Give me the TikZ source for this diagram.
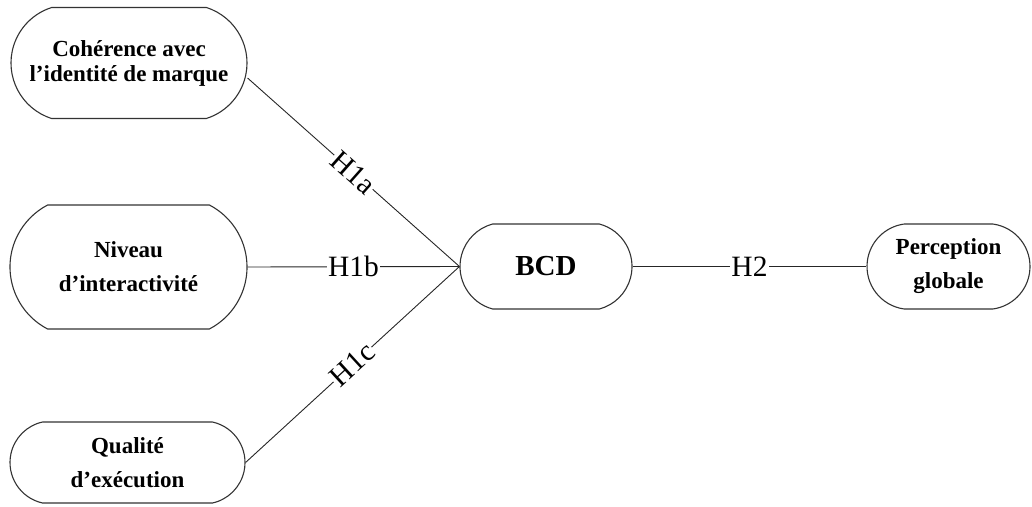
\documentclass[tikz,border=0pt]{standalone}
\usepackage{fontspec}
\setmainfont{Liberation Serif}
\usetikzlibrary{shapes.misc}
\begin{document}
\begin{tikzpicture}[x=1pt,y=-1pt,
  box/.style={draw=black!80, line width=1.1pt, rounded rectangle, align=center,
    font=\bfseries\fontsize{23}{34}\selectfont, inner sep=0pt},
  conn/.style={draw=black!85, line width=0.9pt},
  hlab/.style={fill=white, inner sep=1pt, font=\fontsize{29.5}{30}\selectfont, midway}]
\useasboundingbox (0,0) rectangle (1032,506);
\node[box, minimum width=236pt, minimum height=111pt, rounded rectangle arc length=145,
  font=\bfseries\fontsize{23}{25}\selectfont] (c1) at (129,63) {Cohérence avec\\l’identité de marque};
\node[box, minimum width=237pt, minimum height=124pt, rounded rectangle arc length=125] (c2) at (128.5,267) {Niveau\\d’interactivité};
\node[box, minimum width=235pt, minimum height=81pt, rounded rectangle arc length=155] (c3) at (127.5,462.5) {Qualité\\d’exécution};
\node[box, minimum width=172pt, minimum height=85pt, rounded rectangle arc length=150,
  font=\bfseries\fontsize{29}{30}\selectfont] (bcd) at (546,266.5) {BCD};
\node[box, minimum width=163pt, minimum height=85pt, rounded rectangle arc length=165] (pg) at (948.5,266.5) {Perception\\globale};
\draw[conn] ([yshift=-15pt]c1.east) -- node[hlab, sloped] {H1a} (bcd.west);
\draw[conn] (c2.east) -- node[hlab] {H1b} (bcd.west);
\draw[conn] (c3.east) -- node[hlab, sloped] {H1c} (bcd.west);
\draw[conn] (bcd.east) -- node[hlab] {H2} (pg.west);
\end{tikzpicture}
\end{document}
